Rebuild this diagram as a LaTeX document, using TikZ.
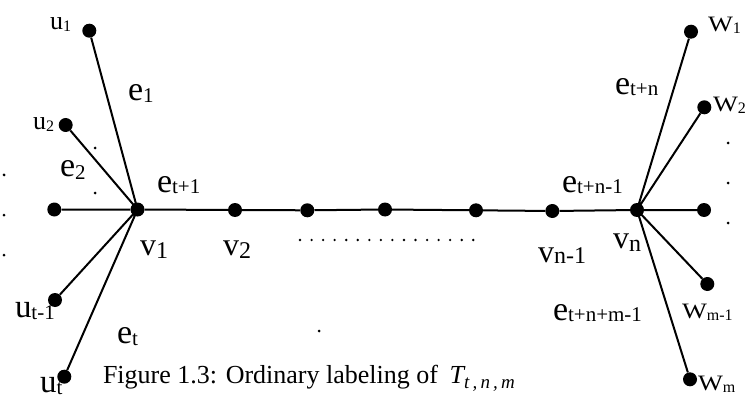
\documentclass[tikz,border=0pt]{standalone}
\usepackage{fontspec}
\setmainfont{Liberation Serif}
\usepackage{graphicx}
\newcommand\lbl[5]{{\fontsize{#1}{#1}\selectfont #3}\raisebox{-#5}{\fontsize{#2}{#2}\selectfont #4}}
\newcommand\Wl{\scalebox{1.2}[1]{W}}
\tikzset{
  vertex/.style={circle, fill=black, inner sep=0pt, minimum size=14pt},
  smalldot/.style={circle, fill=black, inner sep=0pt, minimum size=3pt},
  edge/.style={line width=2pt},
  lab/.style={anchor=base west, inner sep=0pt, outer sep=0pt},
}
\begin{document}
\begin{tikzpicture}[x=1pt,y=-1pt]
\useasboundingbox (0,0) rectangle (754,398);
% vertices
\node[vertex] (u1) at (89.3,30.7) {};
\node[vertex] (u2) at (65.7,125) {};
\node[vertex] (L) at (54.3,209.5) {};
\node[vertex] (v1) at (137.5,209.5) {};
\node[vertex] (ut1) at (55,300) {};
\node[vertex] (ut) at (64.3,376.7) {};
\node[vertex] (v2) at (235,210) {};
\node[vertex] (a3) at (307.3,210.3) {};
\node[vertex] (a4) at (385,209.5) {};
\node[vertex] (a5) at (476,210.3) {};
\node[vertex] (vn1) at (552.3,211) {};
\node[vertex] (vn) at (637,210) {};
\node[vertex] (R) at (704,210) {};
\node[vertex] (w1) at (691,31.7) {};
\node[vertex] (w2) at (704.3,107.3) {};
\node[vertex] (wm1) at (707.3,284) {};
\node[vertex] (wm) at (690,379.3) {};
% edges
\draw[edge] (L) -- (v1) -- (v2) -- (a3) -- (a4) -- (a5) -- (vn1) -- (vn) -- (R);
\draw[edge] (v1.center) -- (u1) (v1.center) -- (u2) (v1.center) -- (ut1) (v1.center) -- (ut);
\draw[edge] (vn.center) -- (w1) (vn.center) -- (w2) (vn.center) -- (wm1) (vn.center) -- (wm);
% small dots
\foreach \p/\n in {{(4,175)}/d1,{(4,215)}/d2,{(4,255)}/d3,{(95,148)}/d4,{(95,193)}/d5,{(319,331)}/d6,{(728,143)}/d7,{(728,183)}/d8,{(728,223)}/d9}
  \node[smalldot] (\n) at \p {};
\foreach \i in {0,...,15}
  \node[smalldot, minimum size=2.6pt] (dl\i) at (300+\i*11.55,240) {};
% labels
\node[lab] (lu1) at (50,30) {\lbl{26}{16}{u}{1}{2pt}};
\node[lab] (lu2) at (33,130) {\lbl{26}{16}{u}{2}{2pt}};
\node[lab] (le1) at (128,101) {\lbl{34}{21}{e}{1}{2pt}};
\node[lab] (le2) at (60,177) {\lbl{34}{21}{e}{2}{2pt}};
\node[lab] (let1) at (157,193) {\lbl{34}{21}{e}{t+1}{1pt}};
\node[lab] (lv1) at (140,255) {\lbl{32}{24}{v}{1}{3pt}};
\node[lab] (lv2) at (223,255) {\lbl{32}{24}{v}{2}{3pt}};
\node[lab] (lvn1) at (538,262) {\lbl{32}{24}{v}{n-1}{1pt}};
\node[lab] (lvn) at (613,248) {\lbl{32}{24}{v}{n}{3pt}};
\node[lab] (letn1) at (562,193) {\lbl{34}{21}{e}{t+n-1}{1pt}};
\node[lab] (letn) at (615,95) {\lbl{34}{21}{e}{t+n}{1pt}};
\node[lab] (lw1) at (708,32) {\lbl{22}{16}{\Wl}{1}{2pt}};
\node[lab] (lw2) at (713,112) {\lbl{22}{16}{\Wl}{2}{2pt}};
\node[lab] (lwm1) at (682,318) {\lbl{22}{16}{\Wl}{m-1}{2pt}};
\node[lab] (letnm) at (553,320) {\lbl{34}{21}{e}{t+n+m-1}{1pt}};
\node[lab] (lwm) at (698,390) {\lbl{22}{16}{\Wl}{m}{2pt}};
\node[lab] (lut1) at (15,317) {\lbl{33}{21}{u}{t-1}{2pt}};
\node[lab] (let) at (117,343) {\lbl{34}{21}{e}{t}{2pt}};
\node[lab] (lut) at (40,392) {\lbl{33}{21}{u}{t}{2pt}};
\node[lab] (cap) at (103,383) {\fontsize{26}{26}\selectfont Figure 1.3: Ordinary labeling of\hspace{0.45em}{\itshape T}\raisebox{-5pt}{\fontsize{19}{19}\selectfont\itshape t\,,\,n\,,\,m}};
\end{tikzpicture}
\end{document}
